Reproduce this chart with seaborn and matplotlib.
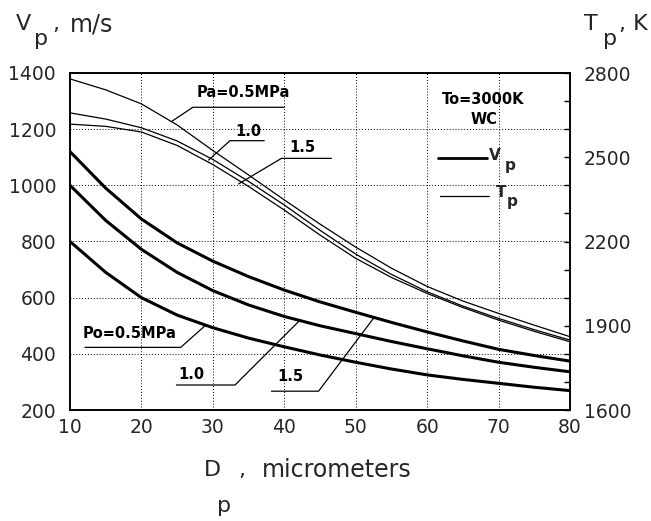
import numpy as np
import pandas as pd
import matplotlib
matplotlib.use("Agg")
import matplotlib.pyplot as plt
import seaborn as sns

# ---- data ----
D = [10, 15, 20, 25, 30, 35, 40, 45, 50, 55, 60, 65, 70, 75, 80]
Vp_05 = [800, 690, 600, 538, 493, 456, 425, 396, 370, 346, 325, 309, 295, 281, 269]
Vp_10 = [1000, 875, 772, 690, 625, 574, 533, 500, 472, 444, 418, 393, 370, 352, 336]
Vp_15 = [1120, 990, 880, 795, 730, 675, 627, 585, 548, 512, 478, 446, 416, 394, 374]
Tp_05 = [2779, 2740, 2690, 2615, 2524, 2437, 2348, 2262, 2180, 2105, 2040, 1988, 1944, 1902, 1861]
Tp_10 = [2658, 2636, 2605, 2558, 2492, 2414, 2330, 2240, 2155, 2083, 2021, 1970, 1926, 1886, 1849]
Tp_15 = [2618, 2610, 2590, 2542, 2474, 2396, 2312, 2223, 2140, 2072, 2015, 1965, 1920, 1880, 1843]

x_ticks = [10, 20, 30, 40, 50, 60, 70, 80]
v_ticks = [200, 400, 600, 800, 1000, 1200, 1400]
t_ticks = [1600, 1900, 2200, 2500, 2800]
t_minor = list(range(1600, 2801, 100))

sns.set_style("white")
plt.rcParams['font.family'] = ['DejaVu Sans']

fig = plt.figure(figsize=(6.51, 5.21), dpi=100)
ax = fig.add_axes([70/651, 1-410/521, 500/651, 337/521])
ax2 = ax.twinx()

for vals in (Vp_05, Vp_10, Vp_15):
    sns.lineplot(x=D, y=vals, ax=ax, color='black', lw=2.2, legend=False)
for vals in (Tp_05, Tp_10, Tp_15):
    sns.lineplot(x=D, y=vals, ax=ax2, color='black', lw=0.9, legend=False)

ax.set_xlim(10, 80)
ax.set_ylim(200, 1400)
ax2.set_ylim(1600, 2800)
ax.set_xticks(x_ticks)
ax.set_yticks(v_ticks)
ax2.set_yticks(t_ticks)
ax2.set_yticks(t_minor, minor=True)
ax.set_xticklabels([str(v) for v in x_ticks], fontsize=13.5)
ax.set_yticklabels([str(v) for v in v_ticks], fontsize=13.5)
ax2.set_yticklabels([str(v) for v in t_ticks], fontsize=13.5)
ax.tick_params(axis='y', length=0, pad=10)
ax.tick_params(axis='x', length=0, pad=6)
ax2.tick_params(axis='y', which='both', direction='in', length=4, width=1, pad=10, color='black')
ax.set_xlabel('')
ax.set_ylabel('')
ax2.set_ylabel('')
ax.grid(True, linestyle=(0, (1, 2)), color='black', lw=0.7)
ax2.grid(False)
for a in (ax, ax2):
    for s in a.spines.values():
        s.set_color('black')
        s.set_linewidth(1.2)

# axis titles
tt = dict(fontsize=16, ha='left', va='center')
fig.text(16/651, 1-24/521, 'V', **tt)
fig.text(34/651, 1-39/521, 'p', **tt)
fig.text(52/651, 1-24/521, ',', **tt)
fig.text(70/651, 1-24/521, 'm/s', fontsize=17, ha='left', va='center')
fig.text(584/651, 1-24/521, 'T', **tt)
fig.text(603/651, 1-39/521, 'p', **tt)
fig.text(619/651, 1-24/521, ', K', **tt)
fig.text(204/651, 1-470/521, 'D', **tt)
fig.text(217/651, 1-506/521, 'p', **tt)
fig.text(238/651, 1-470/521, ',', **tt)
fig.text(262/651, 1-470/521, 'micrometers', fontsize=17, ha='left', va='center')

lab = dict(fontsize=10.5, fontweight='bold', ha='center', va='center', color='black')
line = dict(color='black', lw=0.9)

# top (Tp) leader labels
ax.text(34.3, 1330, 'Pa=0.5MPa', **lab)
ax.plot([40.0, 27.2, 24.2], [1278, 1278, 1227], **line)
ax.text(35.0, 1193, '1.0', **lab)
ax.plot([37.2, 32.4, 29.4], [1159, 1159, 1090], **line)
ax.text(42.6, 1133, '1.5', **lab)
ax.plot([46.6, 39.6, 33.6], [1096, 1096, 1005], **line)

# bottom (Vp) leader labels
ax.text(18.4, 473, 'Po=0.5MPa', **lab)
ax.plot([12.1, 25.5, 28.9], [423, 423, 500], **line)
ax.text(27.0, 327, '1.0', **lab)
ax.plot([24.9, 33.1, 42.2], [289, 289, 520], **line)
ax.text(40.9, 318, '1.5', **lab)
ax.plot([38.2, 44.8, 52.5], [267, 267, 527], **line)

# legend-like annotation
ax.text(67.8, 1304, 'To=3000K', **lab)
ax.text(68.0, 1233, 'WC', **lab)
ax.plot([61.5, 68.4], [1098, 1098], color='black', lw=2.0)
ax.text(68.6, 1106, 'V', fontsize=11, fontweight='bold', ha='left', va='center')
ax.text(70.8, 1070, 'p', fontsize=11, fontweight='bold', ha='left', va='center')
ax.plot([61.8, 68.7], [962, 962], color='black', lw=0.9)
ax.text(69.6, 976, 'T', fontsize=11, fontweight='bold', ha='left', va='center')
ax.text(71.2, 942, 'p', fontsize=11, fontweight='bold', ha='left', va='center')

fig.savefig('out.png', dpi=100, facecolor='white')
